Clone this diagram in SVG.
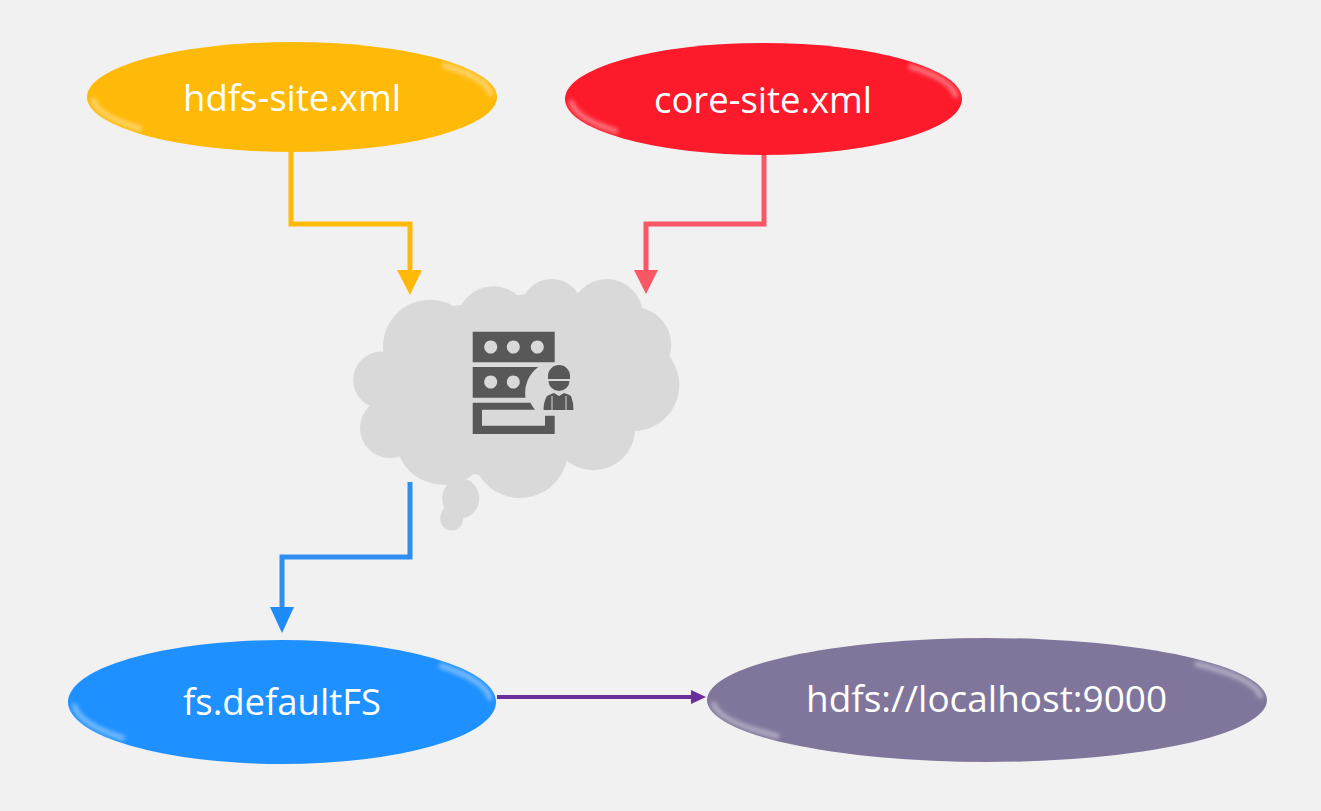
<svg xmlns="http://www.w3.org/2000/svg" width="1321" height="811" viewBox="0 0 1321 811">
<style>
.label{font-family:"Open Sans","Noto Sans",sans-serif;font-size:36px;fill:#fff;text-anchor:middle}
.hl{fill:none;stroke:#fff;stroke-opacity:.42;stroke-width:5;stroke-linecap:round;filter:url(#soft)}
.edge{fill:none;stroke-width:5;stroke-linejoin:miter}
.ic{fill:#595959}
.puff{fill:#d9d9d9}
</style>
<defs>
<filter id="soft" x="-20%" y="-40%" width="140%" height="180%"><feGaussianBlur stdDeviation="2"/></filter>
<filter id="b" x="-5%" y="-5%" width="110%" height="110%"><feGaussianBlur stdDeviation="0.6"/></filter>
</defs>
<rect width="1321" height="811" fill="#f1f1f1"/>
<g id="connectors">
<path class="edge" stroke="#ffb909" d="M291 152V224H410V272"/>
<path fill="#ffb909" d="M397 270H422L410 295Z"/>
<path class="edge" stroke="#f95666" d="M764 155V224H646V272"/>
<path fill="#f95666" d="M634 270H658L646 294Z"/>
<path class="edge" stroke="#2e8ff0" d="M410 482V557H282V610"/>
<path fill="#1e8cf5" d="M270 607H294L282 633Z"/>
<path class="edge" stroke="#6b2f9b" style="stroke-width:4" d="M497 697H695"/>
<path fill="#6b2f9b" d="M691 690L706 697L691 704Z"/>
</g>
<g id="node-hdfs-site">
<ellipse cx="292" cy="97" rx="205" ry="55" fill="#ffb909"/>
<path class="hl" d="M93.400 100.400A199 49 0 0 0 139.600 128.500"/>
<path class="hl" d="M490.600 93.600A199 49 0 0 0 444.400 65.500"/>
<text class="label" x="292" y="111" textLength="218" lengthAdjust="spacingAndGlyphs">hdfs-site.xml</text>
</g>
<g id="node-core-site">
<ellipse cx="763.500" cy="99" rx="198.500" ry="56" fill="#fd1a2a"/>
<path class="hl" d="M571.400 102.500A192.500 50 0 0 0 616 131.100"/>
<path class="hl" d="M955.600 95.500A192.500 50 0 0 0 911 66.900"/>
<text class="label" x="763" y="113" textLength="218" lengthAdjust="spacingAndGlyphs">core-site.xml</text>
</g>
<g id="node-cloud">
<circle class="puff" cx="430" cy="346.700" r="47"/>
<circle class="puff" cx="381.700" cy="380" r="28.500"/>
<circle class="puff" cx="390" cy="428" r="30"/>
<circle class="puff" cx="493.300" cy="323.300" r="37"/>
<circle class="puff" cx="551.700" cy="310" r="31"/>
<circle class="puff" cx="606.700" cy="315" r="36"/>
<circle class="puff" cx="633.300" cy="345" r="38"/>
<circle class="puff" cx="633.300" cy="385" r="46"/>
<circle class="puff" cx="593.300" cy="428.300" r="42"/>
<circle class="puff" cx="520" cy="450" r="48"/>
<circle class="puff" cx="443.300" cy="436.700" r="48"/>
<path class="puff" d="M385 370L430 310L490 300L550 290L610 300L650 370L620 440L520 480L440 470L395 440Z"/>
<ellipse class="puff" cx="460.700" cy="498.300" rx="18.500" ry="20"/>
<ellipse class="puff" cx="453" cy="512" rx="10" ry="9"/>
<ellipse class="puff" cx="451.700" cy="518.500" rx="11.500" ry="12"/>
<g filter="url(#b)">
<path class="ic" fill-rule="evenodd" d="M472.700 331.700H554.700V362.300H472.700ZM490.700 340.500a6.500 6.500 0 1 0 .01 0ZM513.300 340.500a6.500 6.500 0 1 0 .01 0ZM537.300 340.500a6.500 6.500 0 1 0 .01 0Z"/>
<path class="ic" fill-rule="evenodd" d="M472.700 367H538.300A32 32 0 0 0 525.500 397.700H472.700ZM490.700 375.500a6.500 6.500 0 1 0 .01 0ZM513.300 375.500a6.500 6.500 0 1 0 .01 0Z"/>
<path class="ic" fill-rule="evenodd" d="M472.700 402.700H530.500Q532 406 535 409.800H482V425.700H545V415.700H554.700V434H472.700Z"/>
<path class="ic" d="M548 379V376A11 11 0 0 1 570 376V379ZM548.500 381H569.500A10.500 10 0 0 1 548.500 381ZM547 396Q551 394 554 393L559 396L564 393Q568 394 571 396Q573.500 402 573.500 410H543.500Q543.500 402 547 396Z"/>
<path d="M552 396V410M566 396V410" stroke="#d9d9d9" stroke-width="1" fill="none"/>
</g>
</g>
<g id="node-fs-defaultfs">
<ellipse cx="282" cy="702" rx="214" ry="62" fill="#1e90ff"/>
<path class="hl" d="M74.400 706A208 56 0 0 0 122.700 738"/>
<path class="hl" d="M489.600 698A208 56 0 0 0 441.300 666"/>
<text class="label" x="282" y="715" textLength="198" lengthAdjust="spacingAndGlyphs">fs.defaultFS</text>
</g>
<g id="node-localhost">
<ellipse cx="987" cy="700" rx="280" ry="62" fill="#80769b"/>
<path class="hl" d="M713.500 704A274 56 0 0 0 777 736"/>
<path class="hl" d="M1260.500 696A274 56 0 0 0 1197 664"/>
<text class="label" x="986.500" y="712" textLength="361" lengthAdjust="spacingAndGlyphs">hdfs://localhost:9000</text>
</g>
</svg>
